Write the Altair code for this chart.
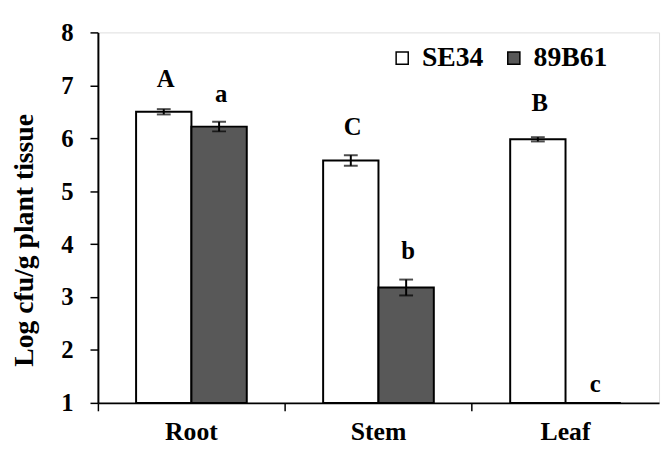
import altair as alt
import pandas as pd

tissues = ["Root", "Stem", "Leaf"]
strains = ["SE34", "89B61"]
se34_vals = [6.50, 5.58, 5.98]
se34_err = [0.05, 0.10, 0.04]
b61_vals = [6.22, 3.18, 1.00]
b61_err = [0.09, 0.15, 0.0]
se34_letters = ["A", "C", "B"]
b61_letters = ["a", "b", "c"]
se34_letter_y = [7.12, 6.22, 6.67]
b61_letter_y = [6.84, 3.87, 1.35]

rows = []
for i, t in enumerate(tissues):
    rows.append(dict(tissue=t, strain="SE34", value=se34_vals[i], err=se34_err[i],
                     letter=se34_letters[i], ly=se34_letter_y[i]))
    rows.append(dict(tissue=t, strain="89B61", value=b61_vals[i], err=b61_err[i],
                     letter=b61_letters[i], ly=b61_letter_y[i]))
df = pd.DataFrame(rows)
df["base"] = 1.0
df["lo"] = df["value"] - df["err"]
df["hi"] = df["value"] + df["err"]
df_err = df[df["err"] > 0]

FONT = "Liberation Serif"

x = alt.X("tissue:N", sort=tissues, title=None,
          scale=alt.Scale(paddingInner=0, paddingOuter=0),
          axis=alt.Axis(bandPosition=0, labelAngle=0, labelFont=FONT, labelFontSize=26,
                        labelFontWeight="bold", labelColor="black", tickColor="black",
                        tickSize=8, tickWidth=1.5, domainColor="black", domainWidth=2,
                        labelPadding=8))
xoff = alt.XOffset("strain:N", sort=strains,
                   scale=alt.Scale(paddingInner=0, paddingOuter=0.69))
yscale = alt.Scale(domain=[1, 8], zero=False, nice=False)

bars = alt.Chart(df).mark_bar(stroke="black", strokeWidth=2).encode(
    x=x, xOffset=xoff,
    y=alt.Y("value:Q", scale=yscale, title="Log cfu/g plant tissue",
            axis=alt.Axis(values=[1, 2, 3, 4, 5, 6, 7, 8], format="d", grid=False,
                          labelFont=FONT, labelFontSize=25, labelFontWeight="bold",
                          labelColor="black", tickColor="black", tickSize=8, tickWidth=1.5,
                          domainColor="black", domainWidth=2, labelPadding=17,
                          titleFont=FONT, titleFontSize=28, titleFontWeight="bold",
                          titleColor="black", titleAngle=-90, titleX=-74, titleY=210,
                          titleAlign="center", titleBaseline="middle")),
    y2="base:Q",
    fill=alt.Fill("strain:N", sort=strains,
                  scale=alt.Scale(domain=strains, range=["white", "#585858"]),
                  legend=alt.Legend(title=None, orient="none", legendX=294, legendY=12,
                                    direction="horizontal", symbolType="square",
                                    symbolSize=150, symbolStrokeColor="black",
                                    symbolStrokeWidth=1.5, labelFont=FONT, labelFontSize=28,
                                    labelFontWeight="bold", labelColor="black",
                                    labelOffset=6, columnPadding=16, padding=0)),
)

rules = alt.Chart(df_err).mark_rule(color="black", strokeWidth=2).encode(
    x=x, xOffset=xoff, y=alt.Y("lo:Q", scale=yscale), y2="hi:Q")
caps_hi = alt.Chart(df_err).mark_tick(color="black", orient="horizontal", size=14,
                                      thickness=2).encode(
    x=x, xOffset=xoff, y=alt.Y("hi:Q", scale=yscale))
caps_lo = alt.Chart(df_err).mark_tick(color="black", orient="horizontal", size=14,
                                      thickness=2).encode(
    x=x, xOffset=xoff, y=alt.Y("lo:Q", scale=yscale))
letters = alt.Chart(df).mark_text(font=FONT, fontSize=25, fontWeight="bold", color="black",
                                  baseline="middle", dx=2).encode(
    x=x, xOffset=xoff, y=alt.Y("ly:Q", scale=yscale), text="letter:N")

chart = alt.layer(bars, rules, caps_hi, caps_lo, letters).properties(
    width=568, height=375,
    autosize=alt.AutoSizeParams(type="none"),
    padding={"left": 91, "top": 22, "right": 4, "bottom": 46},
).configure_view(stroke="black", strokeWidth=2).configure(background="white")

chart.save("out.html", embed_options={"renderer": "svg", "actions": False})
